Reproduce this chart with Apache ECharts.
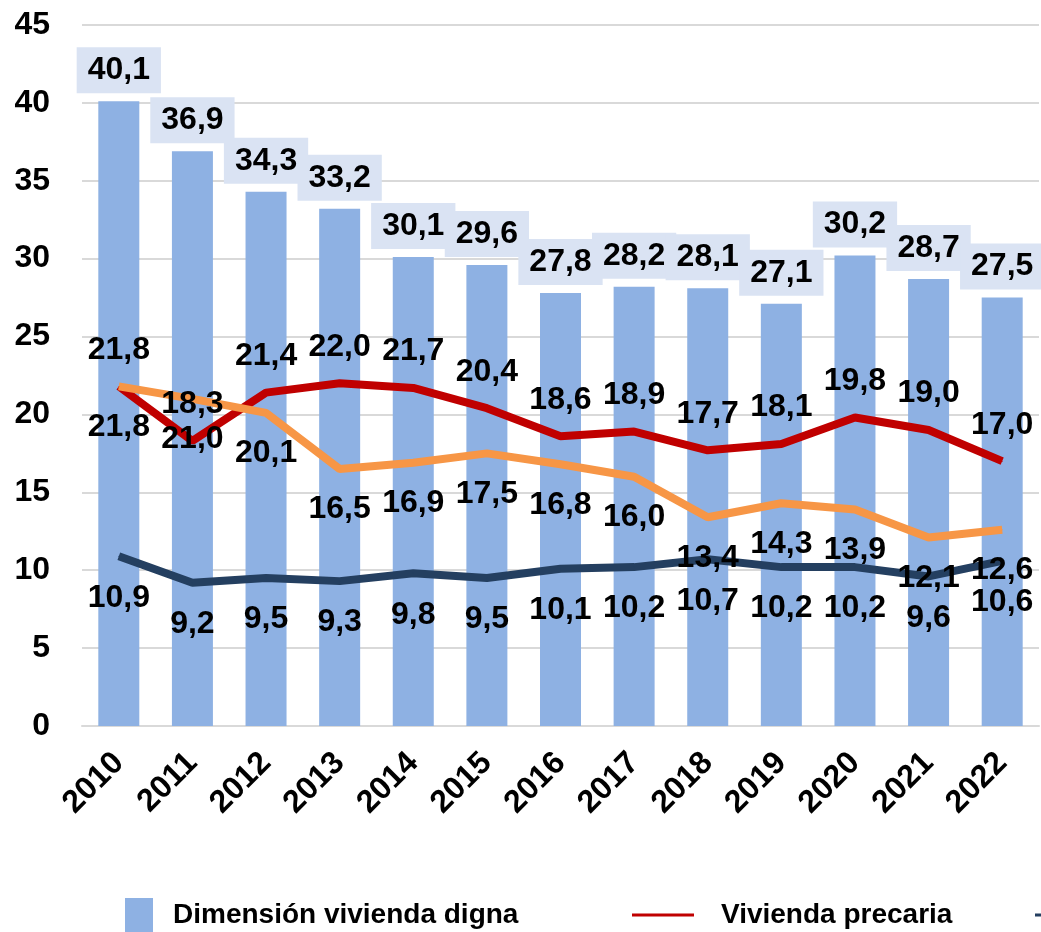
<!DOCTYPE html>
<html>
<head>
<meta charset="utf-8">
<script src="https://cdn.jsdelivr.net/npm/echarts@6/dist/echarts.min.js"></script>
<style>
  html, body { margin: 0; padding: 0; background: #fff; }
  #chart { width: 1041px; height: 932px; }
</style>
</head>
<body>
<div id="chart"></div>
<script>
const years = ['2010', '2011', '2012', '2013', '2014', '2015', '2016', '2017', '2018', '2019', '2020', '2021', '2022']
const viviendaDigna = [40.1, 36.9, 34.3, 33.2, 30.1, 29.6, 27.8, 28.2, 28.1, 27.1, 30.2, 28.7, 27.5]
const viviendaPrecaria = [21.8, 18.3, 21.4, 22.0, 21.7, 20.4, 18.6, 18.9, 17.7, 18.1, 19.8, 19.0, 17.0]
const serviciosBasicos = [21.8, 21.0, 20.1, 16.5, 16.9, 17.5, 16.8, 16.0, 13.4, 14.3, 13.9, 12.1, 12.6]
const hacinamiento = [10.9, 9.2, 9.5, 9.3, 9.8, 9.5, 10.1, 10.2, 10.7, 10.2, 10.2, 9.6, 10.6]
const yTicks = [0, 5, 10, 15, 20, 25, 30, 35, 40, 45]

const font = 'Liberation Sans, Arial, sans-serif'
const fmt = p => p.value.toFixed(1).replace('.', ',')
const lineLabel = (pos, dist) => ({
  show: true,
  position: pos,
  distance: dist,
  formatter: fmt,
  color: '#000',
  fontFamily: font,
  fontWeight: 'bold',
  fontSize: 32
})
const legendText = {
  color: '#000',
  fontFamily: font,
  fontWeight: 'bold',
  fontSize: 28
}

const chart = echarts.init(document.getElementById('chart'))
chart.setOption({
  animation: false,
  grid: { left: 82, right: 2, top: 25, bottom: 206 },
  legend: [{
    data: ['Dimensión vivienda digna'],
    left: 120, top: 893,
    itemWidth: 28, itemHeight: 34,
    icon: 'rect',
    textStyle: Object.assign({ padding: [0, 0, 0, 15] }, legendText)
  }, {
    data: ['Vivienda precaria'],
    left: 627, top: 896,
    itemWidth: 62, itemHeight: 3,
    icon: 'rect',
    textStyle: Object.assign({ padding: [0, 0, 0, 22] }, legendText)
  }, {
    data: ['Hacinamiento'],
    left: 1030, top: 896,
    itemWidth: 62, itemHeight: 3,
    icon: 'rect',
    textStyle: Object.assign({ padding: [0, 0, 0, 22] }, legendText)
  }],
  xAxis: {
    type: 'category',
    data: years,
    axisTick: { show: false },
    axisLine: { lineStyle: { color: '#d9d9d9', width: 2 } },
    axisLabel: {
      rotate: 45,
      margin: 32,
      color: '#000',
      fontFamily: font,
      fontWeight: 'bold',
      fontSize: 32
    }
  },
  yAxis: {
    type: 'value',
    min: yTicks[0],
    max: yTicks[yTicks.length - 1],
    interval: 5,
    axisLine: { show: false },
    axisTick: { show: false },
    splitLine: { lineStyle: { color: '#d9d9d9', width: 2 } },
    axisLabel: {
      margin: 32,
      color: '#000',
      fontFamily: font,
      fontWeight: 'bold',
      fontSize: 32
    }
  },
  series: [{
    name: 'Dimensión vivienda digna',
    type: 'bar',
    barWidth: 41,
    itemStyle: { color: '#8eb1e3' },
    label: {
      show: true,
      position: 'top',
      distance: 8,
      formatter: fmt,
      color: '#000',
      fontFamily: font,
      fontWeight: 'bold',
      fontSize: 32,
      backgroundColor: '#dae3f3',
      padding: [7, 11, 7, 11]
    },
    data: viviendaDigna
  }, {
    name: 'Vivienda precaria',
    type: 'line',
    symbol: 'circle',
    symbolSize: 1,
    lineStyle: { color: '#c00000', width: 8 },
    itemStyle: { color: '#c00000' },
    label: lineLabel('top', 20),
    data: viviendaPrecaria
  }, {
    name: 'Servicios básicos',
    type: 'line',
    symbol: 'circle',
    symbolSize: 1,
    lineStyle: { color: '#f79646', width: 8 },
    itemStyle: { color: '#f79646' },
    label: lineLabel('bottom', 24),
    data: serviciosBasicos
  }, {
    name: 'Hacinamiento',
    type: 'line',
    symbol: 'circle',
    symbolSize: 1,
    lineStyle: { color: '#243f60', width: 8 },
    itemStyle: { color: '#243f60' },
    label: lineLabel('bottom', 25),
    data: hacinamiento
  }]
})
</script>
</body>
</html>
